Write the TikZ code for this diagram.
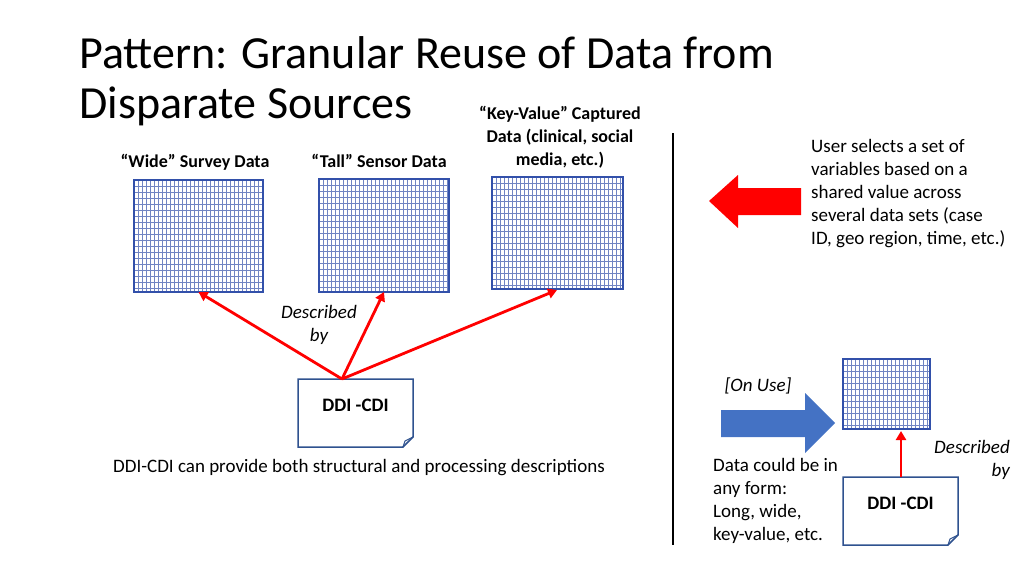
\documentclass[tikz,border=0pt]{standalone}
\usepackage{fontspec}
\setmainfont{Carlito}
\usetikzlibrary{arrows.meta}
\definecolor{gridblue}{RGB}{50,80,170}
\definecolor{boxblue}{RGB}{47,82,143}
\definecolor{arrowblue}{RGB}{68,114,196}
\tikzset{
  grid/.style={draw=gridblue!70,line width=0.5pt},
  note/.style={draw=boxblue,line width=1.5pt,fill=white},
  link/.style={draw=red,line width=2.8pt,-{Triangle[length=9pt,width=10pt]}},
  lbl/.style={font=\fontsize{19pt}{23pt}\selectfont,align=left}
}
\begin{document}
\begin{tikzpicture}[x=1pt,y=-1pt]
  \useasboundingbox (0,0) rectangle (1024,576);
  \newcommand\drawgrid[5]{% name, x0, y0, x1, y1
    \foreach \gx in {#2,...,#4}{\pgfmathparse{mod(\gx-#2,4)==0}\ifnum\pgfmathresult=1\draw[grid] (\gx,#3) -- (\gx,#5);\fi}
    \foreach \gy in {#3,...,#5}{\pgfmathparse{mod(\gy-#3,6)==0}\ifnum\pgfmathresult=1\draw[grid] (#2,\gy) -- (#4,\gy);\fi}
    \draw[gridblue,line width=1.2pt] (#2,#3) rectangle (#4,#5);
    \coordinate (#1) at ({(#2+#4)/2},#5);}
  \newcommand\drawnote[5]{% name, x0, y0, x1, y1
    \draw[note] (#2,#3) -- (#4,#3) -- (#4,#5-10) -- (#4-10,#5) -- (#2,#5) -- cycle;
    \draw[boxblue,line width=1pt] (#4,#5-10) -- (#4-8,#5-6) -- (#4-10,#5);
    \node[font=\bfseries\fontsize{19pt}{23pt}\selectfont] (#1) at ({(#2+#4)/2},{(#3+#5)/2-8}) {DDI -CDI};}

  \node[anchor=north west,align=left,font=\fontsize{46pt}{50pt}\selectfont,inner sep=0] (title) at (79,36) {Pattern: Granular Reuse of Data from\\Disparate Sources};

% data sets
  \drawgrid{wide}{134}{180}{263}{292}
  \drawgrid{tall}{319}{179}{449}{292}
  \drawgrid{kv}{492}{177}{623}{289}
  \node[lbl,font=\bfseries\fontsize{18pt}{23pt}\selectfont] (widel) at (195,162) {“Wide” Survey Data};
  \node[lbl,font=\bfseries\fontsize{18pt}{23pt}\selectfont] (talll) at (379,161) {“Tall” Sensor Data};
  \node[lbl,font=\bfseries\fontsize{18pt}{23pt}\selectfont,align=center] (kvl) at (560,137) {“Key-Value” Captured\\Data (clinical, social\\media, etc.)};

% description
  \drawnote{ddi}{298}{379}{413}{447}
  \coordinate (ddit) at (342,379);
  \draw[link] (ddit) -- (wide);
  \draw[link] (ddit) -- (tall);
  \draw[link] (ddit) -- (557,290);
  \node[lbl,font=\itshape\fontsize{19pt}{23pt}\selectfont,align=center] (descr) at (319,325) {Described\\by};
  \node[lbl] (caption) at (359,468) {DDI-CDI can provide both structural and processing descriptions};

  \draw[line width=2.5pt] (673,133) -- (673,545);

% right side
  \fill[red] (801,188) -- (738,188) -- (738,175) -- (709,201) -- (738,228) -- (738,215) -- (801,215) -- cycle;
  \node[lbl,anchor=north west,inner sep=0] (select) at (811,139) {User selects a set of\\variables based on a\\shared value across\\several data sets (case\\ID, geo region, time, etc.)};

  \fill[arrowblue] (721,410) -- (805,410) -- (805,393) -- (835,423) -- (805,453) -- (805,437) -- (721,437) -- cycle;
  \node[lbl,font=\itshape\fontsize{19pt}{23pt}\selectfont] (onuse) at (758,386) {[On Use]};
  \drawgrid{small}{843}{359}{930}{429}
  \drawnote{ddib}{843}{477}{958}{545}
  \coordinate (ddibt) at (901,477);
  \draw[link] (ddibt) -- (901,431);
  \node[lbl,font=\itshape\fontsize{19pt}{23pt}\selectfont,align=right] (descrb) at (972,460) {Described\\by};
  \node[lbl,anchor=north west,inner sep=0] (form) at (713,458) {Data could be in\\any form:\\Long, wide,\\key-value, etc.};
\end{tikzpicture}
\end{document}
